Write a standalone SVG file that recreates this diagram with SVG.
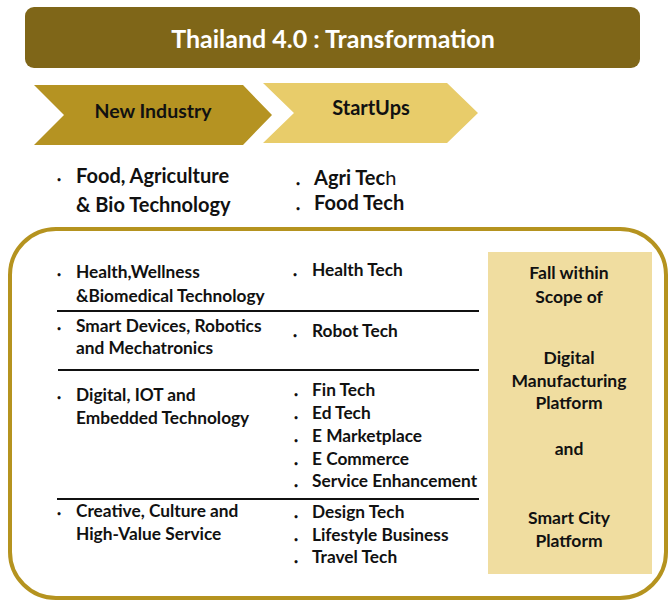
<svg xmlns="http://www.w3.org/2000/svg" width="668" height="600" viewBox="0 0 668 600">
<style>
text{font-family:Lato,"Open Sans","Liberation Sans",sans-serif;font-weight:bold;fill:#111}
.t{font-size:17.3px}
.p{font-size:17.5px}
.b{font-size:7px}
.big{font-size:20px}
.c{text-anchor:middle}
.sep{stroke:#111;stroke-width:2}
</style>
<rect width="668" height="600" fill="#fff"/>
<g id="title">
<rect x="25" y="7" width="615" height="61" rx="9" fill="#7f6618"/>
<text x="333" y="48" class="c" style="font-size:25px;fill:#fff">Thailand 4.0 : Transformation</text>
</g>
<g id="new-industry">
<polygon points="34,85 243,85 272,115 243,145 34,145 64,115" fill="#b59322"/>
<text x="153" y="118" class="c" style="font-size:19.5px">New Industry</text>
</g>
<g id="startups">
<polygon points="263,83 447,83 478,113 447,143 263,143 294,113" fill="#e8cc6a"/>
<text x="371" y="115" class="c" style="font-size:20px">StartUps</text>
</g>
<g id="food">
<text x="57" y="182" class="b">•</text>
<text x="76" y="183" class="big">Food, Agriculture</text>
<text x="76" y="212" class="big">&amp; Bio Technology</text>
<text x="296" y="186" class="b">•</text>
<text x="314" y="185" class="big">Agri Tec<tspan style="font-weight:normal">h</tspan></text>
<text x="296" y="211" class="b">•</text>
<text x="314" y="210" class="big">Food Tech</text>
</g>
<g id="frame">
<rect x="10" y="229" width="656" height="369" rx="46" fill="none" stroke="#b5931f" stroke-width="4"/>
</g>
<g id="panel">
<rect x="488" y="252" width="164" height="322" fill="#f0dda0"/>
<text x="569" y="279" class="p c">Fall within</text>
<text x="569" y="303" class="p c">Scope of</text>
<text x="569" y="364" class="p c">Digital</text>
<text x="569" y="387" class="p c">Manufacturing</text>
<text x="569" y="409" class="p c">Platform</text>
<text x="569" y="455" class="p c">and</text>
<text x="569" y="524" class="p c">Smart City</text>
<text x="569" y="547" class="p c">Platform</text>
</g>
<g id="connectors">
<line x1="57" y1="311" x2="479" y2="311" class="sep"/>
<line x1="58" y1="370" x2="479" y2="370" class="sep"/>
<line x1="57" y1="499" x2="479" y2="499" class="sep"/>
</g>
<g id="health">
<text x="57" y="277" class="b">•</text>
<text x="76" y="278" class="t">Health,Wellness</text>
<text x="76" y="302" class="t">&amp;Biomedical Technology</text>
<text x="293" y="277" class="b">•</text>
<text x="312" y="276" class="t">Health Tech</text>
</g>
<g id="robotics">
<text x="57" y="331" class="b">•</text>
<text x="76" y="332" class="t">Smart Devices, Robotics</text>
<text x="76" y="354" class="t">and Mechatronics</text>
<text x="293" y="338" class="b">•</text>
<text x="312" y="337" class="t">Robot Tech</text>
</g>
<g id="digital">
<text x="57" y="400" class="b">•</text>
<text x="76" y="401" class="t">Digital, IOT and</text>
<text x="76" y="424" class="t">Embedded Technology</text>
<text x="294" y="397" class="b">•</text>
<text x="312" y="396" class="t">Fin Tech</text>
<text x="294" y="420" class="b">•</text>
<text x="312" y="419" class="t">Ed Tech</text>
<text x="294" y="443" class="b">•</text>
<text x="312" y="442" class="t">E Marketplace</text>
<text x="294" y="466" class="b">•</text>
<text x="312" y="465" class="t">E Commerce</text>
<text x="294" y="488" class="b">•</text>
<text x="312" y="487" class="t">Service Enhancement</text>
</g>
<g id="creative">
<text x="57" y="516" class="b">•</text>
<text x="76" y="517" class="t">Creative, Culture and</text>
<text x="76" y="540" class="t">High-Value Service</text>
<text x="294" y="519" class="b">•</text>
<text x="312" y="518" class="t">Design Tech</text>
<text x="294" y="542" class="b">•</text>
<text x="312" y="541" class="t">Lifestyle Business</text>
<text x="294" y="564" class="b">•</text>
<text x="312" y="563" class="t">Travel Tech</text>
</g>
</svg>
